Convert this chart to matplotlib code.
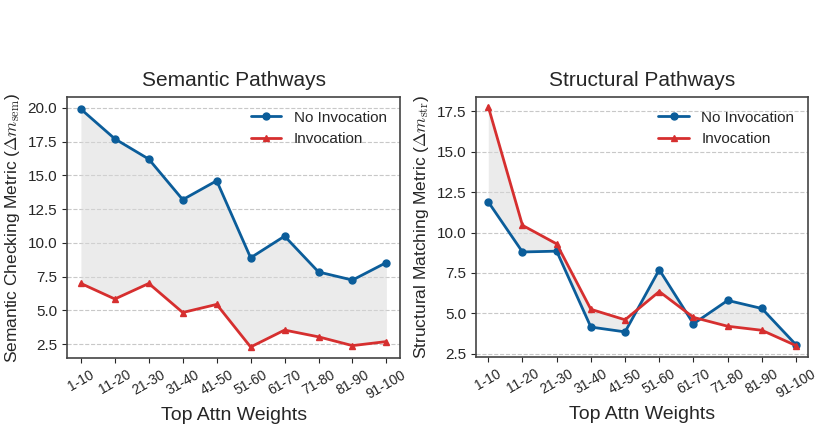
import numpy as np
import matplotlib.pyplot as plt
import seaborn as sns

sns.set_style("ticks")
plt.rcParams['font.family'] = ['Liberation Sans', 'DejaVu Sans']
plt.rcParams['mathtext.fontset'] = 'cm'

bins = ["1-10", "11-20", "21-30", "31-40", "41-50", "51-60", "61-70", "71-80", "81-90", "91-100"]

sem_no_invoke = [19.9, 17.7, 16.2, 13.2, 14.6, 8.9, 10.5, 7.85, 7.25, 8.55]
sem_invoke = [7.0, 5.85, 7.0, 4.85, 5.45, 2.3, 3.55, 3.05, 2.4, 2.7]

str_no_invoke = [11.9, 8.8, 8.85, 4.15, 3.85, 7.7, 4.35, 5.8, 5.3, 3.05]
str_invoke = [17.8, 10.45, 9.3, 5.25, 4.6, 6.35, 4.75, 4.2, 3.95, 3.0]

blue = "#0b5d9a"
red = "#d62f2f"

fig = plt.figure(figsize=(8.17, 4.29), dpi=100)
ax1 = fig.add_axes([0.082, 0.166, 0.408, 0.608])
ax2 = fig.add_axes([0.583, 0.168, 0.406, 0.606])

panels = [
    (ax1, "Semantic Pathways", sem_no_invoke, sem_invoke,
     r"Semantic Checking Metric ($\Delta m_{\mathrm{sem}}$)", [2.5, 5.0, 7.5, 10.0, 12.5, 15.0, 17.5, 20.0], 0.41),
    (ax2, "Structural Pathways", str_no_invoke, str_invoke,
     r"Structural Matching Metric ($\Delta m_{\mathrm{str}}$)", [2.5, 5.0, 7.5, 10.0, 12.5, 15.0, 17.5], 0.35),
]

x = np.arange(len(bins))
for ax, title, no_inv, inv, ylabel, yticks, pad in panels:
    ax.fill_between(x, no_inv, inv, color="#d9d9d9", alpha=0.5, lw=0)
    ax.plot(x, no_inv, color=blue, marker="o", lw=2, ms=5, label="No Invocation")
    ax.plot(x, inv, color=red, marker="^", lw=2, ms=5, label="Invocation")
    ax.set_title(title, fontsize=15, pad=8)
    ax.set_xlabel("Top Attn Weights", fontsize=14)
    ax.set_ylabel(ylabel, fontsize=12.5)
    ax.set_xticks(x)
    ax.set_xticklabels(bins, rotation=30, fontsize=10)
    ax.set_yticks(yticks)
    ax.tick_params(axis="y", labelsize=11)
    ax.grid(axis="y", linestyle="--", color="#c8c8c8", lw=0.8)
    ax.set_xlim(-pad, 9 + pad)
    for s in ax.spines.values():
        s.set_color("#444444")
        s.set_linewidth(1.2)
    ax.legend(loc="upper right", frameon=False, fontsize=11)

ax1.set_ylim(1.5, 20.8)
ax2.set_ylim(2.3, 18.4)

plt.savefig("out.png", dpi=100)
